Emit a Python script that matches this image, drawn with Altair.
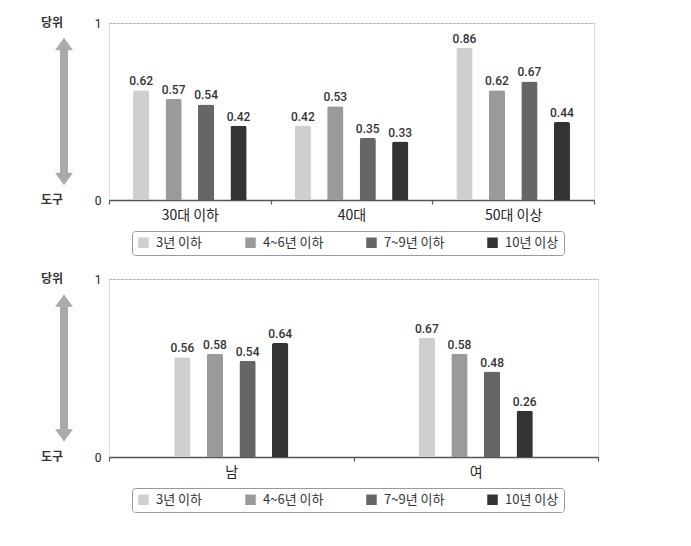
import altair as alt
import pandas as pd

series = ["3년 이하", "4~6년 이하", "7~9년 이하", "10년 이상"]
colors = ["#cfcfcf", "#9a9a9a", "#666666", "#333333"]

age_groups = ["30대 이하", "40대", "50대 이상"]
age_values = [
    [0.62, 0.57, 0.54, 0.42],
    [0.42, 0.53, 0.35, 0.33],
    [0.86, 0.62, 0.67, 0.44],
]

sex_groups = ["남", "여"]
sex_values = [
    [0.56, 0.58, 0.54, 0.64],
    [0.67, 0.58, 0.48, 0.26],
]

FONT = "Noto Sans CJK KR"
NUMFONT = "Roboto"
ARROW = ("M0,-8.2L1,-6.8L0.45,-6.8L0.45,6.8L1,6.8L0,8.2L-1,6.8L-0.45,6.8"
         "L-0.45,-6.8L-1,-6.8Z")


def make_df(groups, values):
    rows = []
    for g, vals in zip(groups, values):
        for s, v in zip(series, vals):
            rows.append({"grp": g, "series": s, "value": v})
    return pd.DataFrame(rows)


def panel(groups, values, width, height, offset_domain, outer_pad):
    df = make_df(groups, values)
    xscale = alt.Scale(domain=groups, paddingInner=0, paddingOuter=0)
    yscale = alt.Scale(domain=[0, 1])
    x = alt.X("grp:N", scale=xscale, sort=groups,
              axis=alt.Axis(title=None, labelAngle=0, ticks=True,
                            tickBand="extent", tickSize=4, tickColor="#555555",
                            tickWidth=1.2, grid=False,
                            domainColor="#555555", domainWidth=1.5,
                            labelFont=FONT, labelFontSize=14,
                            labelColor="#222222", labelPadding=4))
    xo = alt.XOffset("series:N",
                     scale=alt.Scale(domain=offset_domain, paddingInner=0.5,
                                     paddingOuter=outer_pad))
    y = alt.Y("value:Q", scale=yscale,
              axis=alt.Axis(title=None, values=[0, 1], format="d",
                            ticks=False, domain=False, grid=True,
                            gridDash=[2, 2], gridColor="#999999",
                            gridWidth=0.8,
                            labelFont=NUMFONT, labelFontSize=12,
                            labelColor="#222222", labelPadding=8))
    color = alt.Color("series:N", sort=series,
                      scale=alt.Scale(domain=series, range=colors),
                      legend=alt.Legend(
                          title=None, orient="none", legendX=23,
                          legendY=height + 31, direction="horizontal",
                          columns=4, symbolType="square", symbolSize=110,
                          symbolStrokeWidth=0, labelFont=FONT,
                          labelFontSize=13, labelColor="#333333",
                          columnPadding=41, labelOffset=6,
                          strokeColor="#999999", cornerRadius=3,
                          padding=5, fillColor="white"))

    base = alt.Chart(df)
    bars = base.mark_bar(cornerRadiusTopLeft=2, cornerRadiusTopRight=2).encode(
        x=x, xOffset=xo, y=y, color=color)
    labels = base.mark_text(dy=-9, font=NUMFONT, fontSize=12,
                            fontWeight=500, color="#333333").encode(
        x=alt.X("grp:N", sort=groups), xOffset=alt.XOffset("series:N"),
        y="value:Q", text=alt.Text("value:Q", format=".2f"))

    side_df = pd.DataFrame({"t": ["당위", "도구"], "v": [1, 0]})
    side = alt.Chart(side_df).mark_text(font=FONT, fontSize=12, fontWeight="bold",
                                        color="#333333").encode(
        x=alt.value(-57), y="v:Q", text="t:N")

    arrow = alt.Chart(pd.DataFrame({"v": [0.5]})).mark_point(
        shape=ARROW, size=324, filled=True, opacity=1,
        color="#aaaaaa").encode(x=alt.value(-45), y="v:Q")

    return alt.layer(bars, labels, side, arrow).properties(
        width=width, height=height)


top = panel(age_groups, age_values, 485, 177, series, 0.74)
bottom = panel(sex_groups, sex_values, 489, 178, ["·"] + series + ["··"], 1.0)

chart = alt.vconcat(top, bottom, spacing=16).resolve_scale(
    color="independent", xOffset="independent", x="independent",
    y="independent").resolve_legend(color="independent").properties(
    padding={"left": 32, "top": 8, "right": 5, "bottom": 5}).configure_view(
    stroke="transparent", strokeWidth=0).configure(background="white")

chart.save("out.html", embed_options={"renderer": "svg", "actions": False})
